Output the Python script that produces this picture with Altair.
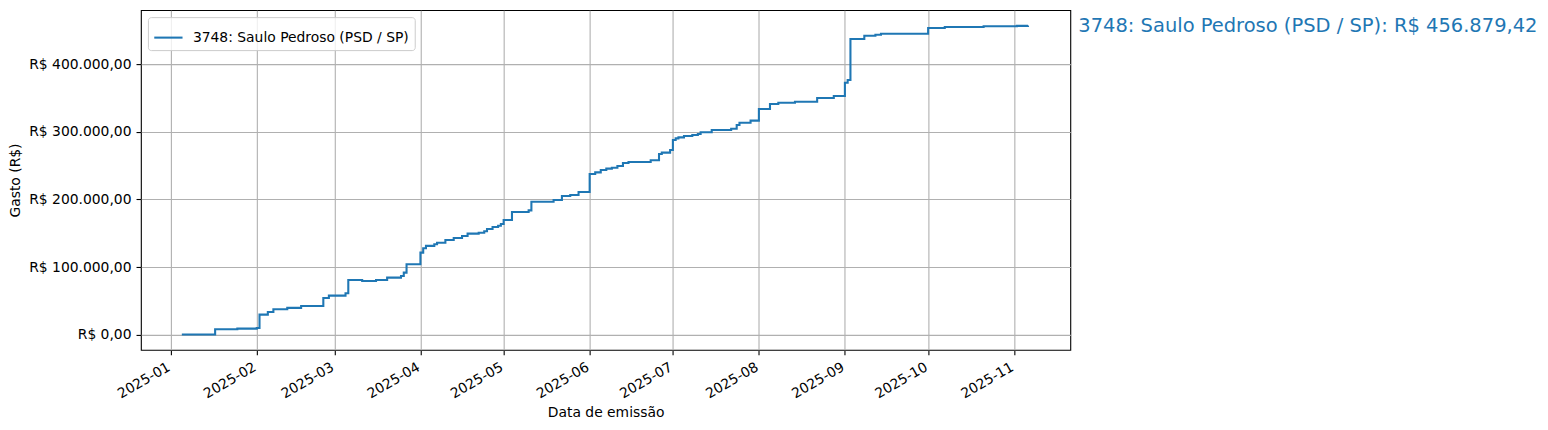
import altair as alt
import pandas as pd

serie_nome = "3748: Saulo Pedroso (PSD / SP)"

datas = [
    "2025-01-05", "2025-01-17", "2025-01-25", "2025-02-01", "2025-02-02", "2025-02-05",
    "2025-02-07", "2025-02-12", "2025-02-17", "2025-02-25", "2025-02-27", "2025-03-05",
    "2025-03-06", "2025-03-11", "2025-03-16", "2025-03-20", "2025-03-25", "2025-03-26",
    "2025-03-27", "2025-04-01", "2025-04-02", "2025-04-03", "2025-04-06", "2025-04-07",
    "2025-04-10", "2025-04-13", "2025-04-16", "2025-04-18", "2025-04-22", "2025-04-24",
    "2025-04-25", "2025-04-27", "2025-04-29", "2025-04-30", "2025-05-01", "2025-05-04",
    "2025-05-10", "2025-05-11", "2025-05-19", "2025-05-22", "2025-05-25", "2025-05-28",
    "2025-06-01", "2025-06-03", "2025-06-05", "2025-06-07", "2025-06-09", "2025-06-11",
    "2025-06-13", "2025-06-15", "2025-06-23", "2025-06-26", "2025-06-27", "2025-06-30",
    "2025-07-01", "2025-07-02", "2025-07-03", "2025-07-05", "2025-07-08", "2025-07-10",
    "2025-07-11", "2025-07-15", "2025-07-22", "2025-07-24", "2025-07-25", "2025-07-29",
    "2025-08-01", "2025-08-05", "2025-08-08", "2025-08-14", "2025-08-22", "2025-08-28",
    "2025-09-01", "2025-09-02", "2025-09-03", "2025-09-08", "2025-09-12", "2025-09-14",
    "2025-10-01", "2025-10-07", "2025-10-21", "2025-11-02", "2025-11-06",
]

gasto_acumulado = [
    700, 8400, 9300, 10300, 30000, 33900,
    37900, 39900, 42800, 54600, 58000, 61500,
    81200, 79700, 81200, 84600, 87100, 92000,
    104400, 121500, 128000, 131500, 134000, 136200,
    140300, 143200, 146200, 149600, 150900, 153100,
    156500, 159400, 161300, 163900, 169800, 181600,
    184000, 196800, 199300, 205200, 206700, 211100,
    237700, 240100, 243600, 245600, 247000, 249500,
    253900, 255400, 257900, 267300, 269200, 273100,
    287900, 290300, 291800, 293800, 295300, 296800,
    299300, 302700, 304600, 310000, 313400, 316500,
    333700, 341100, 343000, 344500, 349900, 352900,
    372500, 376500, 437000, 441900, 443400, 444900,
    453300, 454700, 455800, 456500, 456879.42,
]

y_ticks = [0, 100000, 200000, 300000, 400000]
meses = [(2025, m) for m in range(1, 12)]

FONT = "DejaVu Sans"
AZUL = "#1f77b4"
W, H = 930, 340

df = pd.DataFrame({"data": datas, "gasto": gasto_acumulado, "serie": serie_nome})

total = gasto_acumulado[-1]
txt_total = f"{total:,.2f}".replace(",", "_").replace(".", ",").replace("_", ".")
df_txt = pd.DataFrame({
    "data": [datas[-1]],
    "gasto": [total],
    "rotulo": [f"{serie_nome}: R$ {txt_total}"],
})

x_scale = alt.Scale(
    type="utc",
    domain=[
        alt.DateTime(year=2024, month=12, date=21, hours=6, utc=True),
        alt.DateTime(year=2025, month=11, date=21, hours=6, utc=True),
    ],
)
y_scale = alt.Scale(domain=[-22150, 479700], nice=False, zero=False)

brl_expr = (
    "'R$ ' + replace(replace(replace(format(datum.value, ',.2f'), regexp(',', 'g'), '_'),"
    " regexp('[.]', 'g'), ','), regexp('_', 'g'), '.')"
)

x_axis = alt.Axis(
    title="Data de emissão",
    values=[alt.DateTime(year=y, month=m, date=1, utc=True) for y, m in meses],
    labelExpr="utcFormat(datum.value, '%Y-%m')",
    labelAngle=-30,
    labelAlign="right",
    labelBaseline="middle",
    labelPadding=11,
    labelOffset=-2,
    titleY=63,
    titleBaseline="middle",
)
y_axis = alt.Axis(
    title="Gasto (R$)",
    values=y_ticks,
    labelExpr=brl_expr,
    titleX=-125,
    titleBaseline="middle",
)

linha = alt.Chart(df).mark_line(interpolate="step-after", strokeWidth=2.08).encode(
    x=alt.X("data:T", scale=x_scale, axis=x_axis),
    y=alt.Y("gasto:Q", scale=y_scale, axis=y_axis),
    color=alt.Color(
        "serie:N",
        scale=alt.Scale(range=[AZUL]),
        legend=alt.Legend(
            title=None,
            orient="top-left",
            offset=7,
            padding=5,
            fillColor="rgba(255,255,255,0.8)",
            strokeColor="#cccccc",
            cornerRadius=3,
            symbolType="stroke",
            symbolSize=800,
            symbolStrokeWidth=2.08,
            labelFont=FONT,
            labelFontSize=13.9,
            labelColor="#000000",
            labelOffset=9,
            labelLimit=500,
        ),
    ),
)

texto = alt.Chart(df_txt).mark_text(
    align="left", baseline="middle", font=FONT, fontSize=19.5, color=AZUL
).encode(
    x=alt.value(W + 8),
    y=alt.Y("gasto:Q", scale=y_scale),
    text="rotulo:N",
)

chart = (
    alt.layer(linha, texto)
    .properties(
        width=W,
        height=H,
        autosize=alt.AutoSizeParams(type="none"),
        padding={"left": 133, "top": 2, "right": 470, "bottom": 76},
        background="white",
    )
    .configure_view(stroke="#000000", strokeWidth=1.1)
    .configure_axis(
        domain=False,
        grid=True,
        gridColor="#b0b0b0",
        gridWidth=1.1,
        tickColor="#000000",
        tickWidth=1.1,
        tickSize=4.9,
        labelPadding=5,
        labelFont=FONT,
        labelFontSize=13.9,
        labelColor="#000000",
        titleFont=FONT,
        titleFontSize=13.9,
        titleFontWeight="normal",
        titleColor="#000000",
    )
)

chart.save("out.html", embed_options={"renderer": "svg", "actions": False})
